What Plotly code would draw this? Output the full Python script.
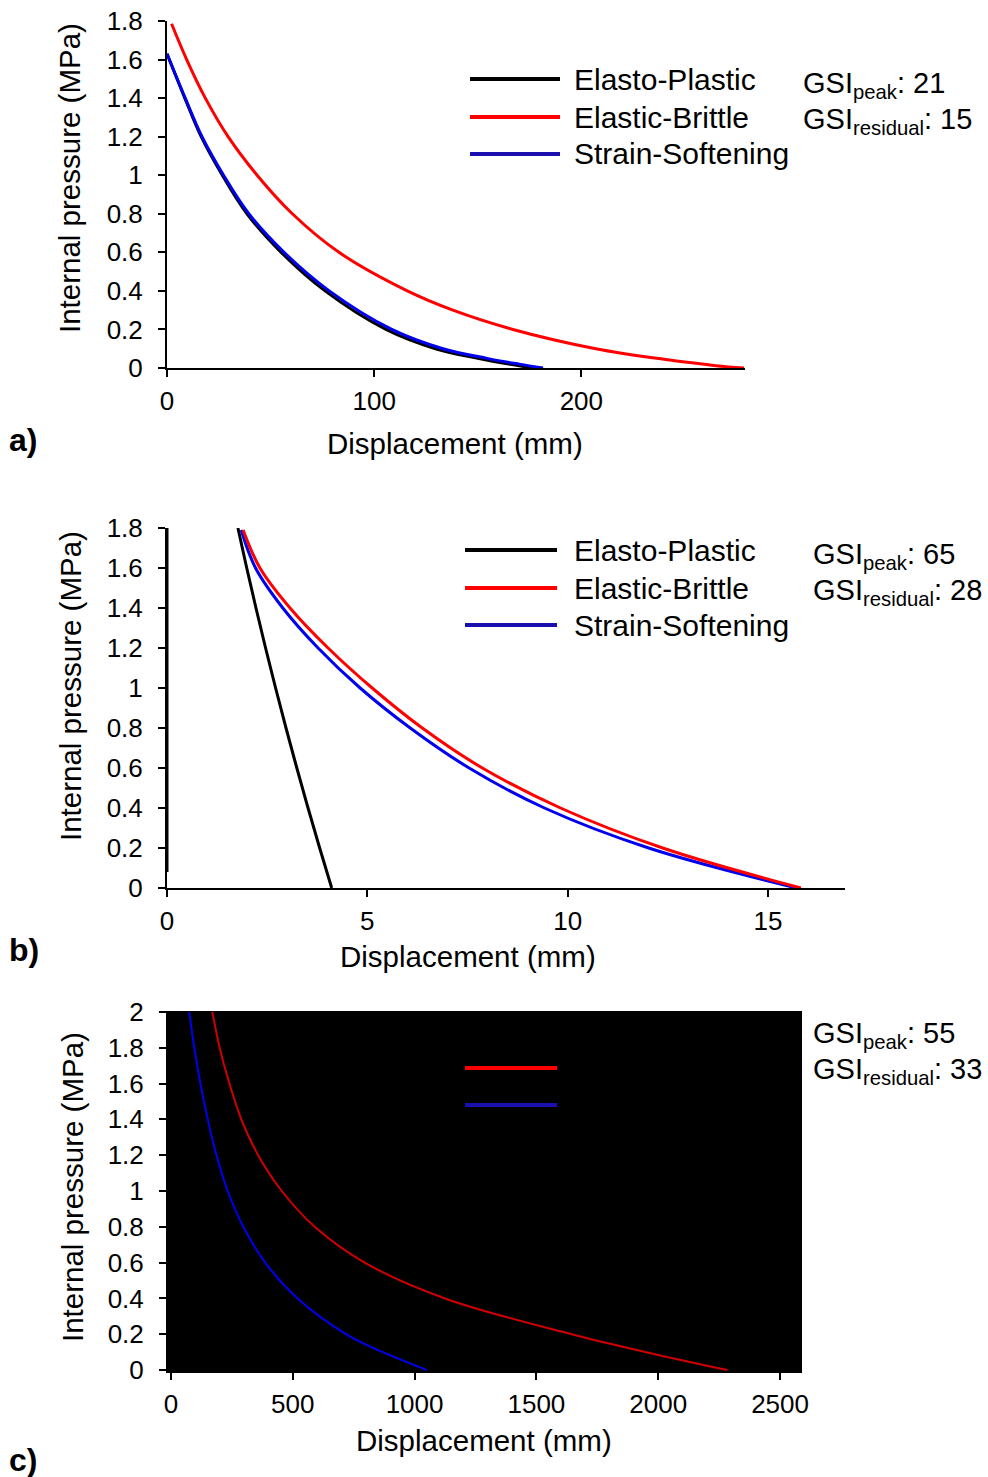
import plotly.graph_objects as go

W, H = 988, 1477
FONT = "Liberation Sans, Arial, sans-serif"

# ---------------- data ----------------
# Panel a (GSI peak 21 / residual 15)
a_ep_x = [0, 8.6, 16.5, 26.7, 38.6, 55.1, 76.3, 105.7, 129.6, 150, 165, 176.5]
a_ep_y = [1.63, 1.4, 1.2, 1.0, 0.8, 0.6, 0.4, 0.2, 0.1, 0.05, 0.02, 0]
a_ss_x = [0, 8.8, 16.9, 27.3, 39.5, 56.5, 78.3, 108.5, 133.2, 154.5, 170, 181.5]
a_ss_y = [1.63, 1.4, 1.2, 1.0, 0.8, 0.6, 0.4, 0.2, 0.1, 0.05, 0.02, 0]
a_eb_x = [2.2, 9.5, 18.5, 29.5, 43.5, 60.5, 83, 116, 138, 167, 207, 240, 265, 278.5]
a_eb_y = [1.786, 1.6, 1.4, 1.2, 1.0, 0.8, 0.6, 0.4, 0.3, 0.2, 0.1, 0.045, 0.012, 0]

# Panel b (GSI peak 65 / residual 28)
b_ep_elastic_x = [0.0, 0.0]
b_ep_elastic_y = [0.08, 1.8]
b_ep_x = [1.77, 1.99, 2.22, 2.46, 2.71, 2.97, 3.24, 3.52, 3.81, 4.11]
b_ep_y = [1.8, 1.6, 1.4, 1.2, 1.0, 0.8, 0.6, 0.4, 0.2, 0]
b_eb_x = [1.90, 2.32, 3.07, 4.02, 5.12, 6.37, 7.87, 9.82, 12.37, 15.82]
b_eb_y = [1.79, 1.6, 1.4, 1.2, 1.0, 0.8, 0.6, 0.4, 0.2, 0]
b_ss_x = [1.85, 2.21, 2.89, 3.77, 4.82, 6.07, 7.54, 9.42, 12.02, 15.71]
b_ss_y = [1.79, 1.6, 1.4, 1.2, 1.0, 0.8, 0.6, 0.4, 0.2, 0]

# Panel c (GSI peak 55 / residual 33)
c_ss_x = [75, 96, 121, 151, 187, 233, 297, 387, 520, 720, 870, 1051]
c_ss_y = [2.0, 1.8, 1.6, 1.4, 1.2, 1.0, 0.8, 0.6, 0.4, 0.2, 0.1, 0]
c_eb_x = [170, 200, 240, 289, 358, 455, 590, 795, 1125, 1645, 1950, 2284]
c_eb_y = [2.0, 1.8, 1.6, 1.4, 1.2, 1.0, 0.8, 0.6, 0.4, 0.2, 0.1, 0]

# ticks
a_xticks = [0, 100, 200]
b_xticks = [0, 5, 10, 15]
c_xticks = [0, 500, 1000, 1500, 2000, 2500]
ab_yticks = [0, 0.2, 0.4, 0.6, 0.8, 1, 1.2, 1.4, 1.6, 1.8]
ab_ytext = ["0", "0.2", "0.4", "0.6", "0.8", "1", "1.2", "1.4", "1.6", "1.8"]
c_yticks = [0, 0.2, 0.4, 0.6, 0.8, 1, 1.2, 1.4, 1.6, 1.8, 2]
c_ytext = ["0", "0.2", "0.4", "0.6", "0.8", "1", "1.2", "1.4", "1.6", "1.8", "2"]

series_names = ["Elasto-Plastic", "Elastic-Brittle", "Strain-Softening"]
gsi = {"a": (21, 15), "b": (65, 28), "c": (55, 33)}

BLACK, RED, BLUE = "#000000", "#ff0000", "#0000ee"
RED_C, BLUE_C = "#d00000", "#0000f0"
LEG_BLUE = "#1a10b0"

# ---------------- figure ----------------
def px_x(p):
    return p / W

def px_y(p):
    return 1 - p / H

fig = go.Figure()

def add(x, y, color, width, xa, ya, name):
    fig.add_trace(go.Scatter(x=x, y=y, mode="lines", name=name, showlegend=False,
                             line=dict(color=color, width=width, shape="spline", smoothing=1.0),
                             xaxis=xa, yaxis=ya))

add(a_ep_x, a_ep_y, BLACK, 3, "x", "y", series_names[0])
add(a_ss_x, a_ss_y, BLUE, 3, "x", "y", series_names[2])
add(a_eb_x, a_eb_y, RED, 3, "x", "y", series_names[1])

add(b_ep_elastic_x, b_ep_elastic_y, BLACK, 3, "x2", "y2", series_names[0])
add(b_ep_x, b_ep_y, BLACK, 3, "x2", "y2", series_names[0])
add(b_ss_x, b_ss_y, BLUE, 3, "x2", "y2", series_names[2])
add(b_eb_x, b_eb_y, RED, 3, "x2", "y2", series_names[1])

add(c_ss_x, c_ss_y, BLUE_C, 2, "x3", "y3", series_names[2])
add(c_eb_x, c_eb_y, RED_C, 2, "x3", "y3", series_names[1])

TICKFONT = dict(size=26, color="black", family=FONT)

def xaxis(dom, rng, ticks, anchor):
    return dict(domain=dom, range=rng, tickvals=ticks, ticktext=[str(t) for t in ticks],
                showgrid=False, zeroline=False, showline=True, linecolor="black", linewidth=2,
                ticks="outside", ticklen=7, tickwidth=2, tickcolor="black",
                tickfont=TICKFONT, ticklabelstandoff=2, automargin=False,
                anchor=anchor, fixedrange=True)

def yaxis(dom, rng, ticks, text, anchor):
    return dict(domain=dom, range=rng, tickvals=ticks, ticktext=text,
                showgrid=False, zeroline=False, showline=True, linecolor="black", linewidth=2,
                ticks="outside", ticklen=7, tickwidth=2, tickcolor="black",
                tickfont=TICKFONT, ticklabelstandoff=10, automargin=False,
                anchor=anchor, fixedrange=True)

fig.update_layout(
    xaxis=xaxis([px_x(167), px_x(745)], [0, 279], a_xticks, "y"),
    yaxis=yaxis([px_y(368), px_y(21)], [0, 1.8], ab_yticks, ab_ytext, "x"),
    xaxis2=xaxis([px_x(167), px_x(845)], [0, 16.92], b_xticks, "y2"),
    yaxis2=yaxis([px_y(888), px_y(528)], [0, 1.8], ab_yticks, ab_ytext, "x2"),
    xaxis3=xaxis([px_x(168), px_x(802)], [-12, 2590], c_xticks, "y3"),
    yaxis3=yaxis([px_y(1371), px_y(1011)], [-0.005, 2.005], c_yticks, c_ytext, "x3"),
)

shapes = []
# black plot area of panel c
shapes.append(dict(type="rect", xref="x3 domain", yref="y3 domain", x0=0, x1=1, y0=0, y1=1,
                   fillcolor="black", line=dict(width=0), layer="below"))

annotations = []

def legend(x0, x1, ys, colors, text_x):
    for y, c, n in zip(ys, colors, series_names):
        shapes.append(dict(type="line", xref="paper", yref="paper",
                           x0=px_x(x0), x1=px_x(x1), y0=px_y(y), y1=px_y(y),
                           line=dict(color=c, width=4)))
        annotations.append(dict(text=n, xref="paper", yref="paper", x=px_x(text_x), y=px_y(y),
                                xanchor="left", yanchor="middle", showarrow=False,
                                font=dict(size=30, color="black", family=FONT)))

legend(470, 560, [79, 117, 154], [BLACK, RED, LEG_BLUE], 572)
legend(465, 557, [550, 588, 625], [BLACK, RED, LEG_BLUE], 572)
legend(465, 557, [1031, 1068, 1105], [BLACK, RED, LEG_BLUE], 572)

def gsi_text(x, y1, y2, vals):
    annotations.append(dict(text="GSI<sub>peak</sub>: %d" % vals[0], xref="paper", yref="paper",
                            x=px_x(x), y=px_y(y1), xanchor="left", yanchor="middle", showarrow=False,
                            font=dict(size=29, color="black", family=FONT)))
    annotations.append(dict(text="GSI<sub>residual</sub>: %d" % vals[1], xref="paper", yref="paper",
                            x=px_x(x), y=px_y(y2), xanchor="left", yanchor="middle", showarrow=False,
                            font=dict(size=29, color="black", family=FONT)))

gsi_text(801, 85, 121, gsi["a"])
gsi_text(811, 556, 592, gsi["b"])
gsi_text(811, 1035, 1071, gsi["c"])

def titles(ycx, ycy, xcx, xcy):
    annotations.append(dict(text="Internal pressure (MPa)", xref="paper", yref="paper",
                            x=px_x(ycx), y=px_y(ycy), xanchor="center", yanchor="middle",
                            textangle=-90, showarrow=False,
                            font=dict(size=29.5, color="black", family=FONT)))
    annotations.append(dict(text="Displacement (mm)", xref="paper", yref="paper",
                            x=px_x(xcx), y=px_y(xcy), xanchor="center", yanchor="middle",
                            showarrow=False, font=dict(size=29.5, color="black", family=FONT)))

titles(70, 178, 455, 443)
titles(70, 686, 468, 956)
titles(72, 1187, 484, 1440)

for lab, y in [("a)", 440), ("b)", 950), ("c)", 1460)]:
    annotations.append(dict(text="<b>%s</b>" % lab, xref="paper", yref="paper",
                            x=px_x(7), y=px_y(y), xanchor="left", yanchor="middle", showarrow=False,
                            font=dict(size=32, color="black", family=FONT)))

fig.update_layout(width=W, height=H, margin=dict(l=0, r=0, t=0, b=0, pad=0, autoexpand=False),
                  paper_bgcolor="white", plot_bgcolor="white",
                  shapes=shapes, annotations=annotations, showlegend=False,
                  font=dict(family=FONT, color="black"))

fig.write_html("out.html",
               config={"displayModeBar": False, "responsive": False},
               post_script="document.body.style.margin='0px';document.body.style.padding='0px';"
                           "document.body.style.overflow='hidden';")
